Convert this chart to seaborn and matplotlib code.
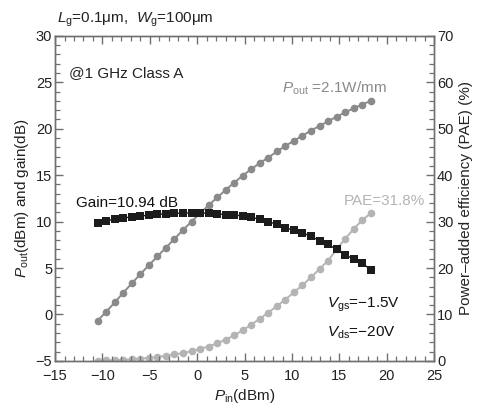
import numpy as np
import pandas as pd
import matplotlib
matplotlib.use("Agg")
import matplotlib.pyplot as plt
from matplotlib.ticker import MultipleLocator
import seaborn as sns

# Input power sweep (dBm)
pin = [-10.5, -9.6, -8.7, -7.8, -6.9, -6.0, -5.1, -4.2, -3.3, -2.4, -1.5,
       -0.6, 0.3, 1.2, 2.1, 3.0, 3.9, 4.8, 5.7, 6.6, 7.5, 8.4, 9.3, 10.2,
       11.1, 12.0, 12.9, 13.8, 14.7, 15.6, 16.5, 17.4, 18.3]

# Output power (dBm)
pout = [-0.65, 0.3, 1.3, 2.35, 3.35, 4.35, 5.3, 6.25, 7.2, 8.15, 9.1,
        10.0, 10.9, 11.75, 12.6, 13.4, 14.2, 14.95, 15.65, 16.3, 16.9, 17.55,
        18.15, 18.7, 19.25, 19.8, 20.3, 20.8, 21.3, 21.75, 22.2, 22.6, 23.0]

# Power gain (dB)
gain = [9.9, 10.1, 10.25, 10.4, 10.5, 10.6, 10.7, 10.78, 10.84, 10.88, 10.92,
        10.94, 10.94, 10.9, 10.83, 10.76, 10.7, 10.62, 10.45, 10.25, 10.0, 9.7,
        9.35, 9.05, 8.8, 8.4, 7.95, 7.55, 7.0, 6.4, 6.0, 5.55, 4.8]

# Power-added efficiency (%)
pae = [0.05, 0.1, 0.15, 0.25, 0.35, 0.5, 0.65, 0.85, 1.1, 1.4, 1.7,
       2.1, 2.6, 3.1, 3.8, 4.6, 5.5, 6.6, 7.8, 9.1, 10.4, 11.8,
       13.2, 14.8, 16.3, 18.0, 19.8, 21.6, 24.0, 26.3, 28.4, 30.3, 31.8]

df = pd.DataFrame({"pin": pin, "pout": pout, "gain": gain, "pae": pae})

sns.set_theme(style="ticks")
plt.rcParams["font.family"] = ["Liberation Sans", "DejaVu Sans"]
plt.rcParams["mathtext.fontset"] = "custom"
plt.rcParams["mathtext.rm"] = "Liberation Sans"
plt.rcParams["mathtext.it"] = "Liberation Sans:italic"
plt.rcParams["mathtext.default"] = "rm"

frame = "#707070"
c_text = "#222222"
c_gain = "#1c1c1c"
c_pout = "#8a8a8a"
c_pae = "#b4b4b4"
MINUS = "\u2212"
MU = "\u03bc"

fig = plt.figure(figsize=(4.83, 4.12), dpi=100)
ax = fig.add_axes([0.114, 0.124, 0.785, 0.789])
ax2 = ax.twinx()

sns.lineplot(data=df, x="pin", y="pae", ax=ax2, color=c_pae,
             marker="o", markersize=5.5, markeredgewidth=0, linewidth=1.4)
sns.lineplot(data=df, x="pin", y="pout", ax=ax, color=c_pout,
             marker="o", markersize=5.5, markeredgewidth=0, linewidth=1.4)
sns.lineplot(data=df, x="pin", y="gain", ax=ax, color=c_gain,
             marker="s", markersize=5.8, markeredgewidth=0, linewidth=1.0)

ax.set_zorder(ax2.get_zorder() + 1)
ax.patch.set_visible(False)

ax.set_xlim(-15, 25)
ax.set_ylim(-5, 30)
ax2.set_ylim(0, 70)

ax.xaxis.set_major_locator(MultipleLocator(5))
ax.xaxis.set_minor_locator(MultipleLocator(1))
ax.yaxis.set_major_locator(MultipleLocator(5))
ax.yaxis.set_minor_locator(MultipleLocator(1))
ax2.yaxis.set_major_locator(MultipleLocator(10))
ax2.yaxis.set_minor_locator(MultipleLocator(2))

for a in (ax, ax2):
    for s in a.spines.values():
        s.set_color(frame)
        s.set_linewidth(1.0)
ax.tick_params(which="both", direction="in", top=True, right=False,
               color=frame, labelsize=10.5, labelcolor=c_text)
ax.tick_params(axis="x", pad=6)
ax.tick_params(axis="y", pad=2)
ax.tick_params(which="major", length=6, width=1.0)
ax.tick_params(which="minor", length=3.5, width=0.9)
ax2.tick_params(which="both", direction="in", color=frame, labelsize=10.5,
                labelcolor=c_text, pad=2)
ax2.tick_params(which="major", length=6, width=1.0)
ax2.tick_params(which="minor", length=3.5, width=0.9)

ax.set_xlabel(r"$\mathit{P}_{\mathrm{in}}$(dBm)", fontsize=11, labelpad=3,
              color=c_text)
ax.set_ylabel(r"$\mathit{P}_{\mathrm{out}}$(dBm) and gain(dB)", fontsize=11,
              labelpad=3, color=c_text)
ax2.set_ylabel("Power\u2013added efficiency (PAE) (%)", fontsize=11,
               labelpad=4, color=c_text)

ax.text(-13.5, 26.05, "@1 GHz Class A", fontsize=11, va="center", ha="left",
        color=c_text)
ax.text(8.9, 24.3, r"$\mathit{P}_{\mathrm{out}}$ =2.1W/mm", fontsize=11,
        va="center", ha="left", color=c_pout)
ax.text(-12.8, 12.05, "Gain=10.94 dB", fontsize=11, va="center", ha="left",
        color="#111111")
ax.text(24.0, 12.2, "PAE=31.8%", fontsize=11, va="center", ha="right",
        color=c_pae)
ax.text(13.7, 1.0, r"$\mathit{V}_{\mathrm{gs}}$=" + MINUS + "1.5V", fontsize=11,
        va="center", ha="left", color="#111111")
ax.text(13.7, -2.0, r"$\mathit{V}_{\mathrm{ds}}$=" + MINUS + "20V", fontsize=11,
        va="center", ha="left", color="#111111")

fig.text(57 / 483, 1 - 20 / 412,
         r"$\mathit{L}_{\mathrm{g}}$=0.1" + MU + "m,  "
         + r"$\mathit{W}_{\mathrm{g}}$=100" + MU + "m",
         fontsize=11, va="center", ha="left", color=c_text)

fig.savefig("out.png", dpi=100)
